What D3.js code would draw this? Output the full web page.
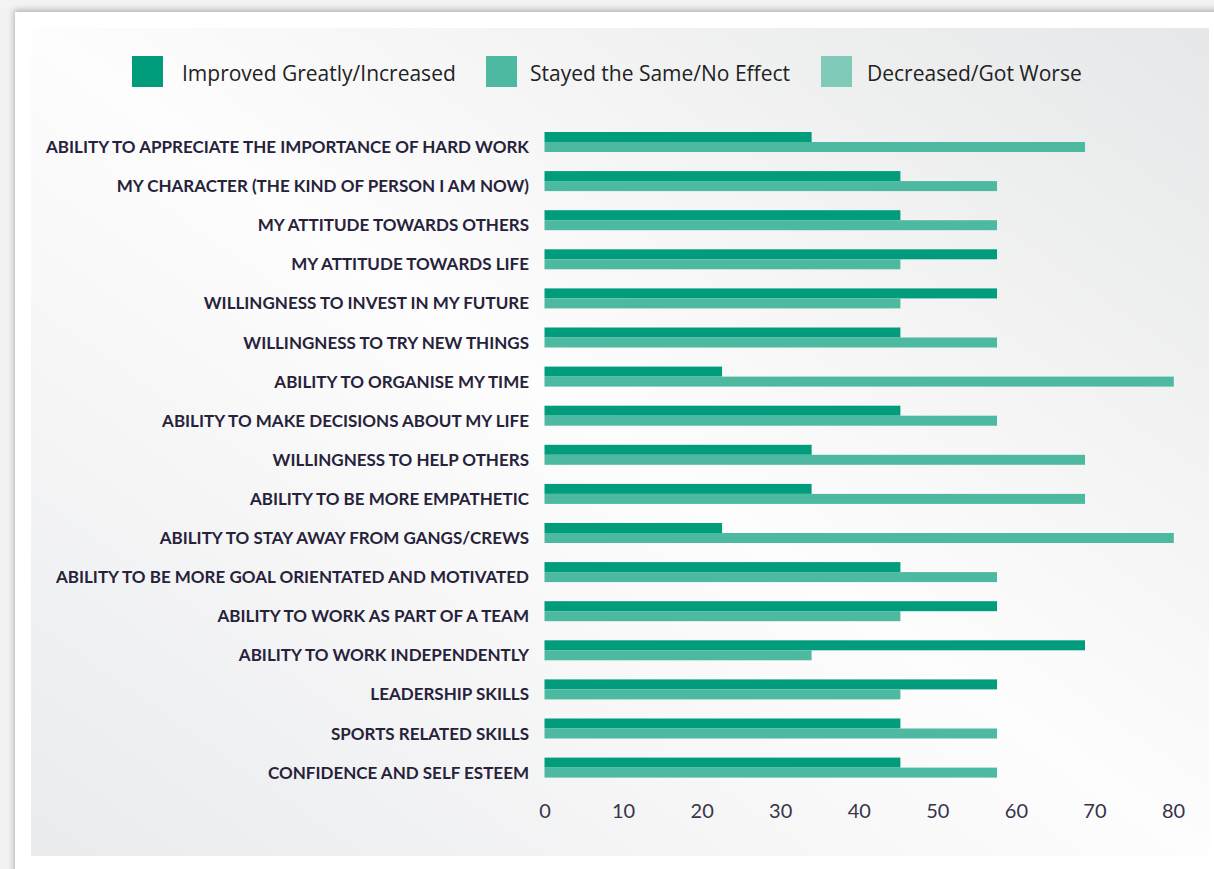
<!DOCTYPE html>
<html>
<head>
<meta charset="utf-8">
<script src="https://cdn.jsdelivr.net/npm/d3@7"></script>
<style>
  html, body { margin: 0; padding: 0; background: #ffffff; }
  svg { display: block; }
</style>
</head>
<body>
<svg id="chart" width="1214" height="869"></svg>
<script>
// Survey outcomes by area (% of respondents)
const categories = [
  "ABILITY TO APPRECIATE THE IMPORTANCE OF HARD WORK",
  "MY CHARACTER (THE KIND OF PERSON I AM NOW)",
  "MY ATTITUDE TOWARDS OTHERS",
  "MY ATTITUDE TOWARDS LIFE",
  "WILLINGNESS TO INVEST IN MY FUTURE",
  "WILLINGNESS TO TRY NEW THINGS",
  "ABILITY TO ORGANISE MY TIME",
  "ABILITY TO MAKE DECISIONS ABOUT MY LIFE",
  "WILLINGNESS TO HELP OTHERS",
  "ABILITY TO BE MORE EMPATHETIC",
  "ABILITY TO STAY AWAY FROM GANGS/CREWS",
  "ABILITY TO BE MORE GOAL ORIENTATED AND MOTIVATED",
  "ABILITY TO WORK AS PART OF A TEAM",
  "ABILITY TO WORK INDEPENDENTLY",
  "LEADERSHIP SKILLS",
  "SPORTS RELATED SKILLS",
  "CONFIDENCE AND SELF ESTEEM"
];
const improved   = [34.0, 45.3, 45.3, 57.6, 57.6, 45.3, 22.6, 45.3, 34.0, 34.0, 22.6, 45.3, 57.6, 68.8, 57.6, 45.3, 45.3];
const stayedSame = [68.8, 57.6, 57.6, 45.3, 45.3, 57.6, 80.1, 57.6, 68.8, 68.8, 80.1, 57.6, 45.3, 34.0, 45.3, 57.6, 57.6];
const decreased  = [0, 0, 0, 0, 0, 0, 0, 0, 0, 0, 0, 0, 0, 0, 0, 0, 0];
const seriesNames = ["Improved Greatly/Increased", "Stayed the Same/No Effect", "Decreased/Got Worse"];
const seriesColors = ["#009c7b", "#4db9a1", "#7fcab9"];
const xTicks = [0, 10, 20, 30, 40, 50, 60, 70, 80];

const seriesValues = [improved, stayedSame, decreased];
const rows = categories.map((c, i) => ({
  category: c,
  values: seriesNames.map((s, k) => ({ series: s, value: seriesValues[k][i] }))
}));

const svg = d3.select("#chart");
const defs = svg.append("defs");

// card shadow
const shadow = defs.append("filter").attr("id", "cardShadow")
  .attr("x", "-5%").attr("y", "-5%").attr("width", "110%").attr("height", "110%");
shadow.append("feDropShadow")
  .attr("dx", -1).attr("dy", -2).attr("stdDeviation", 3)
  .attr("flood-color", "#000").attr("flood-opacity", 0.28);

// panel background: light in the middle, grey toward two corners
const grad = defs.append("linearGradient").attr("id", "panelGrad")
  .attr("x1", "0%").attr("y1", "100%").attr("x2", "100%").attr("y2", "0%");
grad.append("stop").attr("offset", "0%").attr("stop-color", "#eaebed");
grad.append("stop").attr("offset", "50%").attr("stop-color", "#fdfdfd");
grad.append("stop").attr("offset", "100%").attr("stop-color", "#e6e7e8");

svg.append("rect").attr("x", 0).attr("y", 0).attr("width", 1214).attr("height", 869).attr("fill", "#f3f3f3");
svg.append("rect").attr("x", 15).attr("y", 12).attr("width", 1240).attr("height", 900)
  .attr("fill", "#ffffff").attr("filter", "url(#cardShadow)");
svg.append("rect").attr("x", 31).attr("y", 28).attr("width", 1178).attr("height", 828)
  .attr("fill", "url(#panelGrad)");

// scales
const x = d3.scaleLinear().domain([0, 80]).range([544.5, 1173]);
const step = 39.1, inner = 0.233;
const y0 = 132 - step * inner / 2;
const y = d3.scaleBand().domain(categories)
  .range([y0, y0 + step * categories.length])
  .paddingInner(inner).paddingOuter(inner / 2);
const y1 = d3.scaleBand().domain(seriesNames).range([0, y.bandwidth()]);
const color = d3.scaleOrdinal().domain(seriesNames).range(seriesColors);

// bars
const groups = svg.append("g").selectAll("g").data(rows).join("g")
  .attr("transform", d => `translate(0,${y(d.category)})`);
groups.selectAll("rect").data(d => d.values).join("rect")
  .attr("x", x(0))
  .attr("y", d => y1(d.series))
  .attr("width", d => x(d.value) - x(0))
  .attr("height", y1.bandwidth())
  .attr("fill", d => color(d.series));

// category labels
svg.append("g").selectAll("text").data(categories).join("text")
  .attr("x", 529)
  .attr("y", d => y(d) + y.bandwidth() / 2 + 6.1)
  .attr("text-anchor", "end")
  .attr("font-family", "Lato, 'Open Sans', sans-serif")
  .attr("font-weight", 700)
  .attr("font-size", 17)
  .attr("fill", "#27223a")
  .text(d => d);

// x axis (labels only)
const xAxis = d3.axisBottom(x).tickValues(xTicks).tickSize(0).tickPadding(0);
const axisG = svg.append("g").attr("transform", "translate(0,804)").call(xAxis);
axisG.select(".domain").remove();
axisG.selectAll("text")
  .attr("font-family", "Lato, 'Open Sans', sans-serif")
  .attr("font-size", 20)
  .attr("fill", "#38334b");

// legend
const legendSwatchX = [132, 486, 821];
const legendTextX = [182, 530, 867];
const legend = svg.append("g").selectAll("g").data(seriesNames).join("g");
legend.append("rect")
  .attr("x", (d, i) => legendSwatchX[i]).attr("y", 56)
  .attr("width", 31).attr("height", 31).attr("fill", d => color(d));
legend.append("text")
  .attr("x", (d, i) => legendTextX[i]).attr("y", 80.5)
  .attr("font-family", "'Open Sans', Lato, sans-serif")
  .attr("font-size", 21)
  .attr("fill", "#222222")
  .text(d => d);
</script>
</body>
</html>
